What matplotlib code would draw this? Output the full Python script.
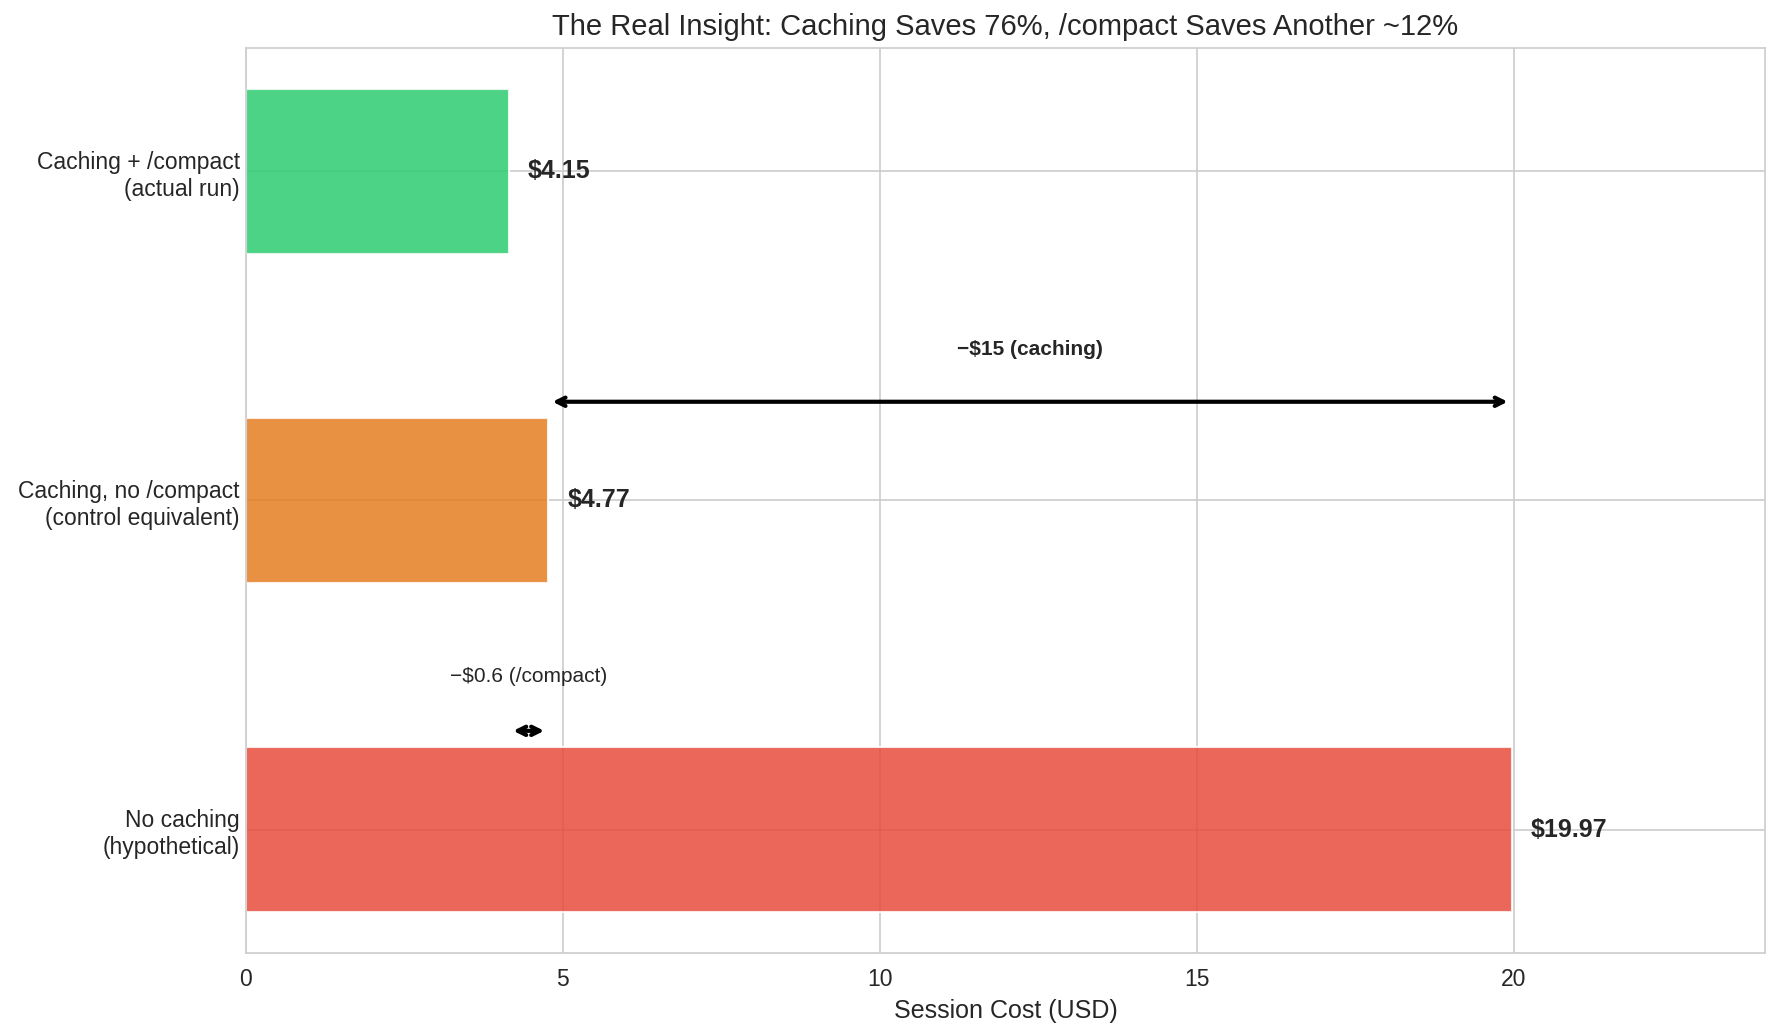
import matplotlib
matplotlib.use("Agg")
import matplotlib.pyplot as plt
import seaborn as sns

categories = ["No caching\n(hypothetical)",
              "Caching, no /compact\n(control equivalent)",
              "Caching + /compact\n(actual run)"]
costs = [19.97, 4.77, 4.15]
colors = ["#e74c3c", "#e67e22", "#2ecc71"]
title = "The Real Insight: Caching Saves 76%, /compact Saves Another ~12%"

sns.set_style("whitegrid")
plt.rcParams['font.family'] = ['Liberation Sans', 'DejaVu Sans']

fig, ax = plt.subplots(figsize=(1780/150, 1030/150), dpi=150)
fig.subplots_adjust(left=0.1382, right=0.9916, bottom=0.0748, top=0.9534)

y = list(range(len(categories)))
ax.barh(y, costs, height=0.5, color=colors, alpha=0.85)
ax.set_yticks(y)
ax.set_yticklabels(categories, fontsize=11)
ax.tick_params(axis='x', labelsize=11)
ax.tick_params(axis='y', length=0, pad=3.0)
for yi, c in zip(y, costs):
    ax.text(c + 0.3, yi, f"${c:.2f}", va='center', ha='left',
            fontsize=12, fontweight='bold', color='#262626')

ax.set_xlim(0, max(costs) * 1.2)
ax.set_xlabel("Session Cost (USD)", fontsize=12)
ax.set_title(title, fontsize=14)

# caching savings arrow
ax.annotate("", xy=(costs[0], 1.3), xytext=(costs[1], 1.3),
            arrowprops=dict(arrowstyle='<->', color='black', lw=2))
ax.text((costs[0] + costs[1]) / 2, 1.46, f"\u2212${costs[0]-costs[1]:.0f} (caching)",
        ha='center', va='center', fontsize=10, fontweight='bold', color='#262626')

# compact savings arrow
ax.annotate("", xy=(costs[1], 0.3), xytext=(costs[2], 0.3),
            arrowprops=dict(arrowstyle='<->', color='black', lw=2))
ax.text((costs[1] + costs[2]) / 2, 0.465, f"\u2212${costs[1]-costs[2]:.1f} (/compact)",
        ha='center', va='center', fontsize=10, color='#262626')

fig.savefig("out.png", dpi=150)
